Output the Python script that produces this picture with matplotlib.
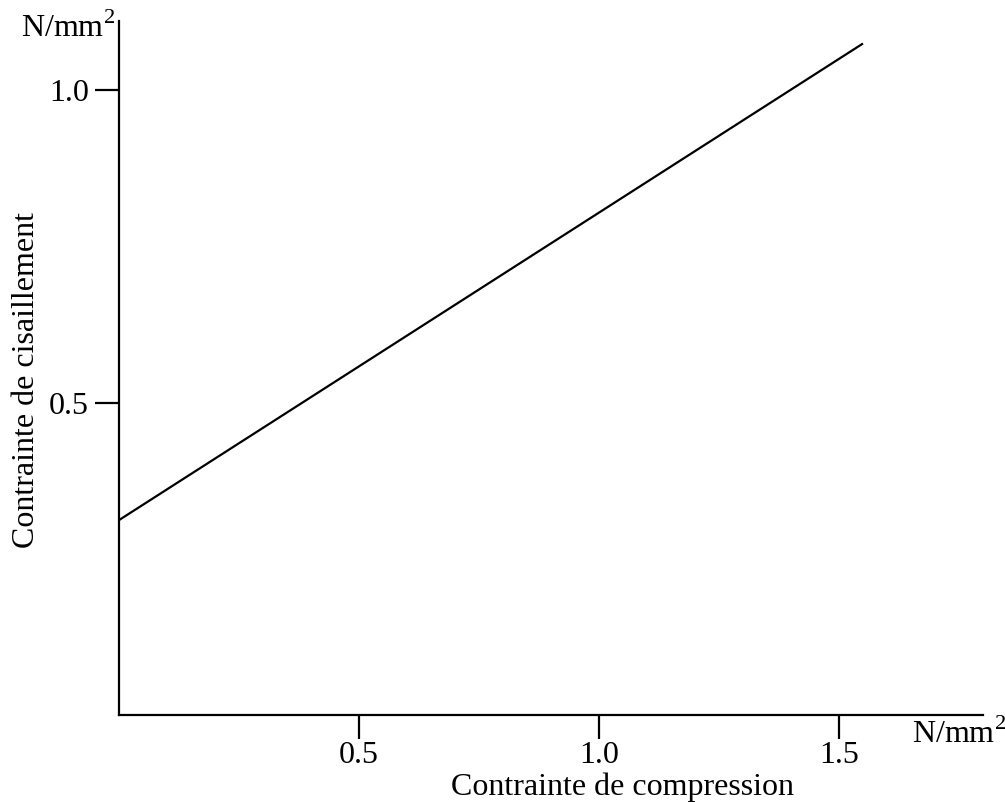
import matplotlib
matplotlib.use("Agg")
import matplotlib.pyplot as plt

# Data: shear stress vs compression stress (N/mm2)
compression = [0.0, 1.55]
shear = [0.312, 1.075]

x_ticks = [0.5, 1.0, 1.5]
y_ticks = [0.5, 1.0]

plt.rcParams['font.family'] = 'Liberation Serif'
plt.rcParams['mathtext.fontset'] = 'custom'
plt.rcParams['mathtext.rm'] = 'Liberation Serif'

W, H = 1005, 802
fig = plt.figure(figsize=(W / 100, H / 100), dpi=100)
ax = fig.add_axes([119 / W, 1 - 715 / H, (983 - 119) / W, (715 - 21) / H])

ax.plot(compression, shear, color='black', linewidth=1.6, solid_capstyle='butt')

ax.set_xlim(0, 1.8)
ax.set_ylim(0, 1.111)
ax.set_xticks(x_ticks)
ax.set_yticks(y_ticks)
ax.set_xticklabels([f"{v:.1f}" for v in x_ticks])
ax.set_yticklabels([f"{v:.1f}" for v in y_ticks])

for side in ['top', 'right']:
    ax.spines[side].set_visible(False)
for side in ['left', 'bottom']:
    ax.spines[side].set_linewidth(1.6)

ax.tick_params(direction='out', length=17.5, width=1.6, labelsize=23)
ax.tick_params(axis='x', pad=1.5)
ax.tick_params(axis='y', pad=4)

# axis titles
fig.text(622 / W, 1 - 795 / H, "Contrainte de compression", ha='center', va='baseline', fontsize=23)
fig.text(27 / W, 1 - 380 / H, "Contrainte de cisaillement", ha='center', va='center',
         rotation=90, fontsize=23)

# units
fig.text(115 / W, 1 - 37 / H, r"N/mm$^2$", ha='right', va='baseline', fontsize=23)
fig.text(912 / W, 1 - 743 / H, r"N/mm$^2$", ha='left', va='baseline', fontsize=23)

fig.savefig("out.png", dpi=100)
